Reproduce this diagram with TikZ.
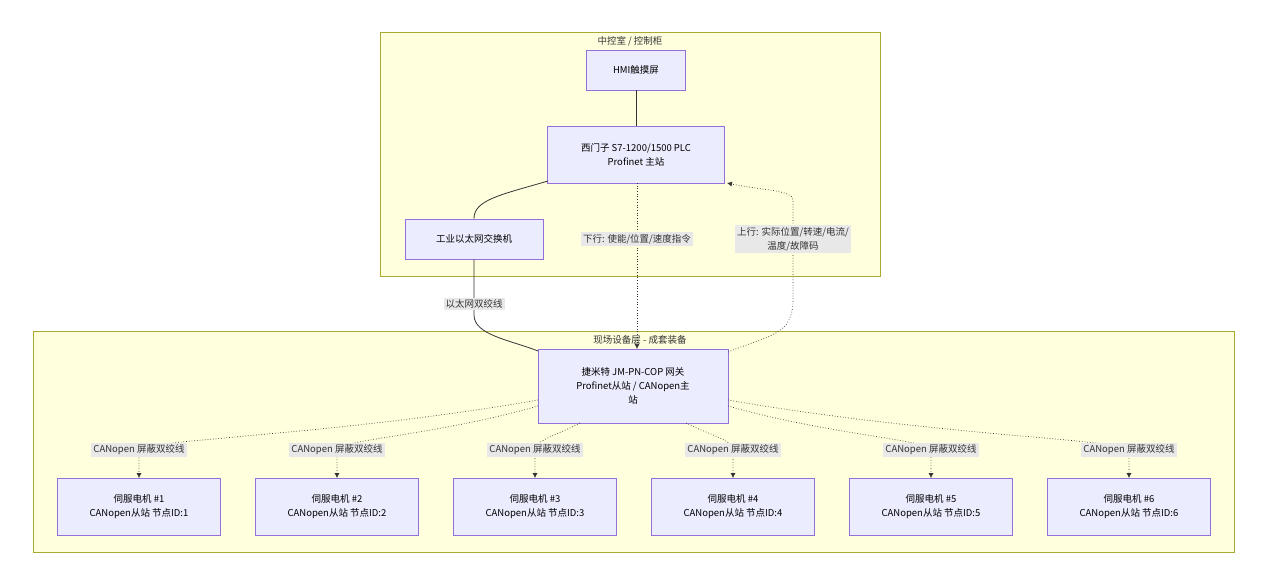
\documentclass[tikz,border=0pt]{standalone}
\usepackage{fontspec}
\setmainfont{Noto Sans CJK SC}
\usetikzlibrary{arrows.meta}
\definecolor{clf}{HTML}{FFFFDE}\definecolor{cls}{HTML}{AAAA33}
\definecolor{ndf}{HTML}{ECECFF}\definecolor{nds}{HTML}{9370DB}
\definecolor{lbf}{HTML}{E8E8E8}\definecolor{ln}{HTML}{333333}
\begin{document}
\begin{tikzpicture}[x=1pt,y=-1pt,font=\fontsize{9.5}{14}\selectfont,
 cl/.style={draw=cls,fill=clf,line width=0.8pt},
 nd/.style={draw=nds,fill=ndf,line width=0.8pt,align=center,inner sep=0pt},
 lb/.style={fill=lbf,align=center,inner sep=2pt,text=ln},
 sl/.style={draw=ln,line width=0.8pt},
 dl/.style={draw=ln,line width=0.7pt,dotted,-{Latex[length=5pt,width=5pt]}}]
\useasboundingbox (0,0) rectangle (1267,585);
\fill[white] (0,0) rectangle (1267,585);
\draw[cl] (380,32) rectangle (880,276);
\node[text=ln] (t1) at (630,41) {中控室 / 控制柜};
\draw[cl] (33,331) rectangle (1234,552);
\node[text=ln] (t2) at (640,340) {现场设备层 - 成套装备};
\node[nd,minimum width=99pt,minimum height=40pt] (hmi) at (636,70) {HMI触摸屏};
\node[nd,minimum width=177pt,minimum height=57pt] (plc) at (636,155) {西门子 S7-1200/1500 PLC\\Profinet 主站};
\node[nd,minimum width=138pt,minimum height=40pt] (sw) at (474,239) {工业以太网交换机};
\node[nd,minimum width=190pt,minimum height=74pt] (gw) at (633,386) {捷米特 JM-PN-COP 网关\\Profinet从站 / CANopen主\\站};
\foreach \i/\x in {1/139,2/337,3/535,4/733,5/931,6/1129}{
 \node[nd,minimum width=163pt,minimum height=57pt] (s\i) at (\x,507) {伺服电机 \#\i\\CANopen从站 节点ID:\i};
}
\draw[sl] (hmi) -- (plc);
\draw[sl] (548,181) .. controls (500,195) and (474,200) .. (sw.north);
\draw[sl] (sw.south) -- (474,315) .. controls (474,335) and (510,340) .. (538,351);
\node[lb] (l0) at (474,304) {以太网双绞线};
\draw[dl] (637,183) -- (637,349);
\node[lb] (l1) at (637,239) {下行: 使能/位置/速度指令};
\draw[dl] (728,352) .. controls (770,335) and (793,335) .. (793,300) -- (793,200) .. controls (793,190) and (760,190) .. (727,183);
\node[lb] (l2) at (793,239) {上行: 实际位置/转速/电流/\\温度/故障码};
\foreach \i/\x/\y/\sx in {1/139/400/538,2/337/406/538,3/535/423/580,4/733/423/686,5/931/406/728,6/1129/400/728}{
 \pgfmathsetmacro\cx{\x+0.5*(\sx-\x)}
 \draw[dl] (\sx,\y) .. controls (\cx,435) and (\x,440) .. (\x,450) -- (s\i.north);
 \node[lb] (c\i) at (\x,450) {CANopen 屏蔽双绞线};
}
\end{tikzpicture}
\end{document}
